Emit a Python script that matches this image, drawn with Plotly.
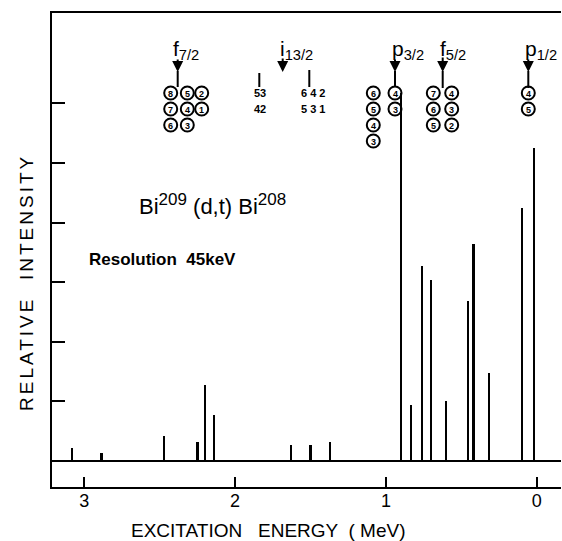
import plotly.graph_objects as go

# ---- data ----
energy_mev = [3.08, 2.885, 2.47, 2.25, 2.20, 2.14, 1.63, 1.50, 1.37,
              0.90, 0.832, 0.763, 0.70, 0.60, 0.455, 0.42, 0.318, 0.10, 0.02]
intensity = [0.22, 0.13, 0.42, 0.32, 1.28, 0.77, 0.27, 0.27, 0.32,
             6.17, 0.94, 3.28, 3.04, 1.00, 2.68, 3.64, 1.48, 4.24, 5.25]
x_tick_vals = [3, 2, 1, 0]
x_tick_text = ["3", "2", "1", "0"]
y_tick_vals = [1, 2, 3, 4, 5, 6]

# ---- layout geometry ----
W, H = 562, 541
ML, MR, MT, MB = 52, 1, 13, 54
X_RANGE = [3.214, -0.161]
Y_RANGE = [-0.436, 7.517]


def X(px):
    return X_RANGE[0] + (px - ML) / (W - ML - MR) * (X_RANGE[1] - X_RANGE[0])


def Y(py):
    return Y_RANGE[1] - (py - MT) / (H - MT - MB) * (Y_RANGE[1] - Y_RANGE[0])


FONT = "Liberation Sans, Arial, sans-serif"

fig = go.Figure()
fig.add_trace(go.Bar(x=energy_mev, y=intensity, width=0.015,
                     marker=dict(color="black", line=dict(width=0)),
                     hoverinfo="x+y"))

annotations = []
shapes = []

# shell labels
labels = [
    ("f<sub>7/2</sub>", 171, 50),
    ("i<sub>13/2</sub>", 278, 50),
    ("p<sub>3/2</sub>", 390, 50),
    ("f<sub>5/2</sub>", 438, 50),
    ("p<sub>1/2</sub>", 523, 50),
]
for txt, px, py in labels:
    annotations.append(dict(x=X(px), y=Y(py), text=txt, showarrow=False,
                            xanchor="left", yanchor="middle",
                            font=dict(family=FONT, size=21, color="black")))

# arrows: (x px, top, tip, line end or None)
arrows = [(177.7, 58, 72, 87), (282.7, 57, 72, None), (395, 58, 72, 87),
          (442.7, 56, 72, 88), (528.3, 58, 72, 88)]
for px, top, tip, end in arrows:
    annotations.append(dict(x=X(px), y=Y(tip), ax=0, ay=-(tip - top), text="",
                            showarrow=True, arrowhead=2, arrowsize=1.1,
                            arrowwidth=2, arrowcolor="black", standoff=0))
    if end is not None:
        shapes.append(dict(type="line", xref="x", yref="y", x0=X(px), x1=X(px),
                           y0=Y(tip - 1), y1=Y(end), line=dict(color="black", width=2)))

# i13/2 small markers
for px, top in [(259.3, 73), (309.3, 70)]:
    shapes.append(dict(type="line", xref="x", yref="y", x0=X(px), x1=X(px),
                       y0=Y(top), y1=Y(87), line=dict(color="black", width=2)))
for txt, px, py in [("53", 260, 93), ("42", 260, 109), ("6 4 2", 313, 93), ("5 3 1", 313, 109)]:
    annotations.append(dict(x=X(px), y=Y(py), text="<b>%s</b>" % txt, showarrow=False,
                            xanchor="center", yanchor="middle",
                            font=dict(family=FONT, size=11, color="black")))

# circled numbers: (x px, y px, digit)
rows = [93, 109, 125, 141]
circles = []
for col_x, digits in [(170.7, "876"), (187.3, "543"), (201.7, "21"),
                      (373.3, "6543"), (395, "43"),
                      (433.3, "765"), (451.7, "432"),
                      (528.3, "45")]:
    for i, d in enumerate(digits):
        circles.append((col_x, rows[i], d))
for px, py, d in circles:
    shapes.append(dict(type="circle", xref="x", yref="y", xsizemode="pixel",
                       ysizemode="pixel", xanchor=X(px), yanchor=Y(py),
                       x0=-6.5, x1=6.5, y0=-6.5, y1=6.5,
                       line=dict(color="black", width=2)))
    annotations.append(dict(x=X(px), y=Y(py + 0.5), text="<b>%s</b>" % d, showarrow=False,
                            xanchor="center", yanchor="middle",
                            font=dict(family=FONT, size=9, color="black")))

# reaction and resolution text
sup = "<sup><span style='font-size:17px'>%s</span></sup>"
annotations.append(dict(x=X(137), y=Y(204),
                        text="Bi" + sup % "209" + " (d,t) Bi" + sup % "208",
                        showarrow=False, xanchor="left", yanchor="middle",
                        font=dict(family=FONT, size=22, color="black")))
annotations.append(dict(x=X(87), y=Y(259), text="<b>Resolution  45keV</b>",
                        showarrow=False, xanchor="left", yanchor="middle",
                        font=dict(family=FONT, size=17, color="black")))

# axis titles
annotations.append(dict(xref="paper", yref="paper", x=(27 - ML) / (W - ML - MR),
                        y=(H - MB - 283) / (H - MT - MB),
                        text='<span style="letter-spacing:3px">RELATIVE  INTENSITY</span>',
                        textangle=-90, showarrow=False,
                        xanchor="center", yanchor="middle",
                        font=dict(family=FONT, size=19, color="black")))
annotations.append(dict(xref="paper", yref="paper", x=(268 - ML) / (W - ML - MR),
                        y=(H - MB - 530) / (H - MT - MB),
                        text="EXCITATION   ENERGY  ( MeV)", showarrow=False,
                        xanchor="center", yanchor="middle",
                        font=dict(family=FONT, size=19, color="black")))

fig.update_layout(
    width=W, height=H,
    margin=dict(l=ML, r=MR, t=MT, b=MB, pad=0),
    plot_bgcolor="white", paper_bgcolor="white",
    showlegend=False,
    annotations=annotations, shapes=shapes,
    bargap=0,
)
fig.update_xaxes(range=X_RANGE, showgrid=False, zeroline=False,
                 showline=True, mirror=True, linecolor="black", linewidth=2,
                 ticks="inside", ticklen=10, tickwidth=2, tickcolor="black",
                 tickvals=x_tick_vals, ticktext=x_tick_text,
                 ticklabelstandoff=-4,
                 tickfont=dict(family=FONT, size=18, color="black"))
fig.update_yaxes(range=Y_RANGE, showgrid=False, zeroline=True,
                 zerolinecolor="black", zerolinewidth=2,
                 showline=True, linecolor="black", linewidth=2,
                 ticks="inside", ticklen=13, tickwidth=2, tickcolor="black",
                 tickvals=y_tick_vals, showticklabels=False)

fig.write_html("out.html", config={"displayModeBar": False},
               post_script="document.body.style.margin='0';document.body.style.overflow='hidden';")
